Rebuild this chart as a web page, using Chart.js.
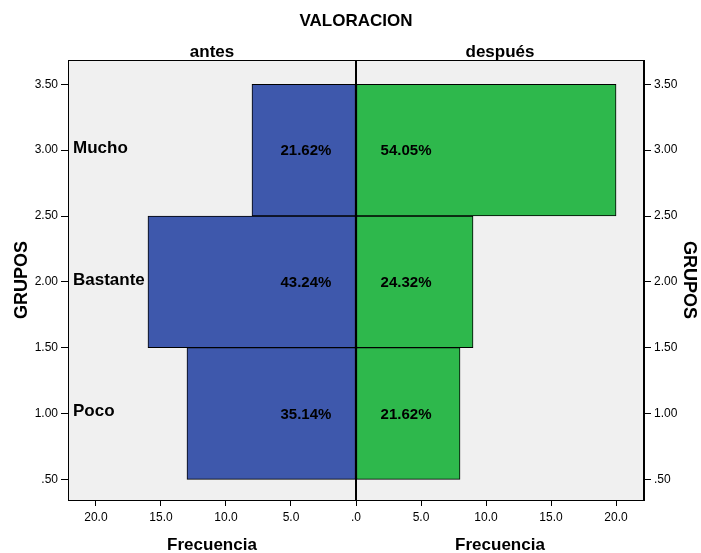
<!DOCTYPE html>
<html>
<head>
<meta charset="utf-8">
<script src="https://cdn.jsdelivr.net/npm/chart.js@4/dist/chart.umd.min.js"></script>
<style>
  html, body { margin: 0; padding: 0; background: #fff; }
  #wrap { width: 701px; height: 553px; }
</style>
</head>
<body>
<div id="wrap"><canvas id="chart" width="701" height="553"></canvas></div>
<script>
// data
const groups = ['Poco', 'Bastante', 'Mucho'];
const groupValues = [1, 2, 3];
const antes = [13, 16, 8];
const despues = [8, 9, 20];
const sideLabels = ['antes', 'después'];
const yTicks = [0.5, 1, 1.5, 2, 2.5, 3, 3.5];
const xTicks = [-20, -15, -10, -5, 0, 5, 10, 15, 20];

const FONT = 'Arial, "Liberation Sans", Helvetica, sans-serif';
const Y_MIN = 0.343, Y_MAX = 3.685;
const X_LIM = 22.15;

const pct = (arr) => {
  const total = arr.reduce((a, b) => a + b, 0);
  return arr.map((v) => (v / total * 100).toFixed(2) + '%');
};

const fmtY = (v) => {
  const s = v.toFixed(2);
  return s.startsWith('0') ? s.slice(1) : s;
};

const fmtX = (v) => {
  const s = Math.abs(v).toFixed(1);
  return s.startsWith('0') ? s.slice(1) : s;
};

const pyramidDecor = {
  id: 'pyramidDecor',
  beforeDraw(chart) {
    const { ctx, chartArea: a } = chart;
    ctx.save();
    ctx.fillStyle = '#f0f0f0';
    ctx.fillRect(a.left, a.top, a.right - a.left, a.bottom - a.top);
    ctx.restore();
  },
  afterDatasetsDraw(chart) {
    const { ctx, chartArea: a, scales } = chart;
    const x = scales.x;
    const y = scales.y;
    const x0 = x.getPixelForValue(0);

    ctx.save();
    // frame
    ctx.strokeStyle = '#000';
    ctx.lineWidth = 1;
    ctx.strokeRect(a.left + 0.5, a.top + 0.5, a.right - a.left - 1, a.bottom - a.top);

    // center line
    ctx.lineWidth = 2;
    ctx.beginPath();
    ctx.moveTo(x0, a.top);
    ctx.lineTo(x0, a.bottom);
    ctx.stroke();

    ctx.fillStyle = '#000';
    ctx.textBaseline = 'middle';

    // group names inside the plot
    ctx.font = 'bold 17px ' + FONT;
    ctx.textAlign = 'left';
    groups.forEach((g, i) => {
      ctx.fillText(g, a.left + 5, y.getPixelForValue(groupValues[i]) - 2);
    });

    // percentages
    ctx.font = 'bold 15px ' + FONT;
    ctx.textAlign = 'center';
    const pa = pct(antes);
    const pd = pct(despues);
    groupValues.forEach((gv, i) => {
      const py = y.getPixelForValue(gv) + 1;
      ctx.fillText(pa[i], x.getPixelForValue(-3.85), py);
      ctx.fillText(pd[i], x.getPixelForValue(3.85), py);
    });

    // headers and axis titles for each half
    const leftMid = (a.left + x0) / 2;
    const rightMid = (x0 + a.right) / 2;
    ctx.font = 'bold 17px ' + FONT;
    ctx.fillText('VALORACION', (a.left + a.right) / 2, 21);
    ctx.fillText(sideLabels[0], leftMid, 52);
    ctx.fillText(sideLabels[1], rightMid, 52);
    ctx.fillText('Frecuencia', leftMid, 545);
    ctx.fillText('Frecuencia', rightMid, 545);
    ctx.restore();
  }
};

const yAxisBase = (position, width, titlePad) => ({
  type: 'linear',
  position: position,
  offset: false,
  min: Y_MIN,
  max: Y_MAX,
  afterBuildTicks: (s) => { s.ticks = yTicks.map((v) => ({ value: v })); },
  afterFit: (s) => { s.width = width; },
  ticks: {
    color: '#000',
    padding: 3,
    font: { family: FONT, size: 12 },
    callback: (v) => fmtY(v)
  },
  grid: {
    offset: false,
    drawOnChartArea: false,
    tickLength: 7,
    tickColor: '#000'
  },
  border: { display: true, color: '#000', width: 1 },
  title: {
    display: true,
    text: 'GRUPOS',
    color: '#000',
    font: { family: FONT, size: 18, weight: 'bold' },
    padding: titlePad
  }
});

new Chart(document.getElementById('chart'), {
  type: 'bar',
  data: {
    datasets: [
      {
        label: sideLabels[0],
        data: groupValues.map((g, i) => ({ y: g, x: -antes[i] })),
        backgroundColor: '#3e58ac',
        borderColor: '#000',
        borderWidth: 1,
        borderSkipped: false,
        grouped: false,
        barPercentage: 1,
        categoryPercentage: 1,
        yAxisID: 'y'
      },
      {
        label: sideLabels[1],
        data: groupValues.map((g, i) => ({ y: g, x: despues[i] })),
        backgroundColor: '#2eb84c',
        borderColor: '#000',
        borderWidth: 1,
        borderSkipped: false,
        grouped: false,
        barPercentage: 1,
        categoryPercentage: 1,
        yAxisID: 'y'
      }
    ]
  },
  options: {
    indexAxis: 'y',
    responsive: false,
    animation: false,
    layout: { padding: { top: 60, left: 0, right: 0, bottom: 0 } },
    plugins: {
      legend: { display: false },
      title: { display: false },
      tooltip: { enabled: false }
    },
    scales: {
      x: {
        type: 'linear',
        position: 'bottom',
        offset: false,
        min: -X_LIM,
        max: X_LIM,
        afterBuildTicks: (s) => { s.ticks = xTicks.map((v) => ({ value: v })); },
        afterFit: (s) => { s.height = 53; },
        ticks: {
          color: '#000',
          padding: 4,
          maxRotation: 0,
          font: { family: FONT, size: 12 },
          callback: (v) => fmtX(v)
        },
        grid: {
          offset: false,
          drawOnChartArea: false,
          tickLength: 6,
          tickColor: '#000'
        },
        border: { display: true, color: '#000', width: 1 }
      },
      y: {
        type: 'linear',
        display: false,
        offset: false,
        min: Y_MIN,
        max: Y_MAX,
        grid: { offset: false },
        afterBuildTicks: (s) => { s.ticks = groupValues.map((v) => ({ value: v })); }
      },
      yLeft: yAxisBase('left', 68, { top: 11, bottom: 0 }),
      yRight: yAxisBase('right', 57, { top: 1, bottom: 0 })
    }
  },
  plugins: [pyramidDecor]
});
</script>
</body>
</html>
